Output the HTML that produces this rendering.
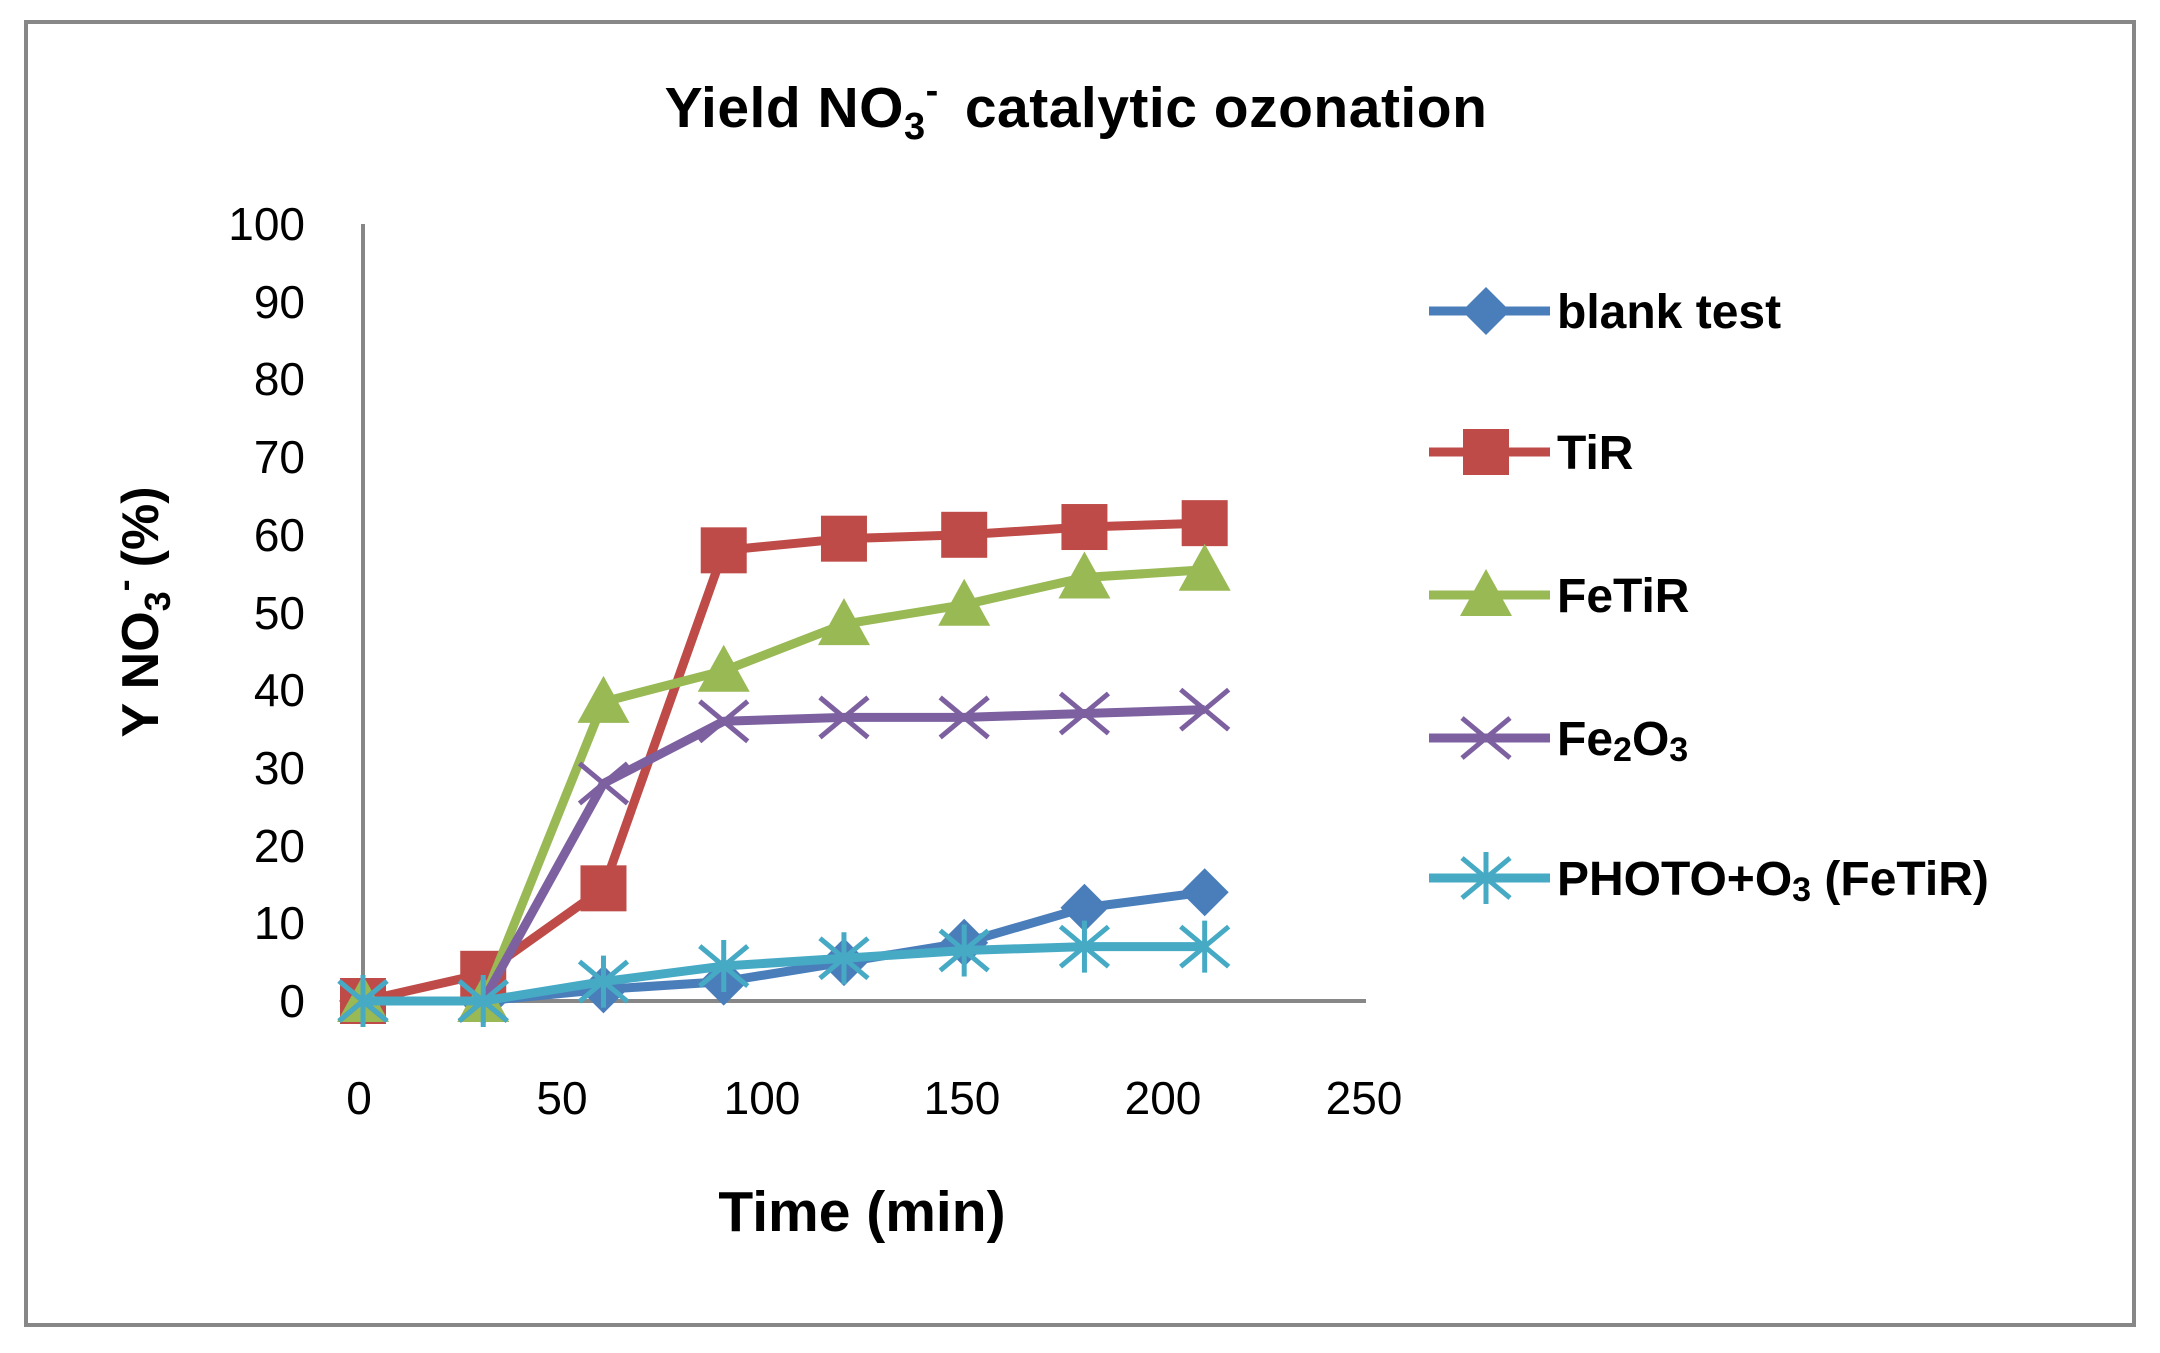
<!DOCTYPE html>
<html><head><meta charset="utf-8"><style>
html,body{margin:0;padding:0;background:#fff;}
svg{display:block;font-family:"Liberation Sans",sans-serif;}
</style></head><body>
<svg id="s" width="2160" height="1353" viewBox="0 0 2160 1353" xmlns="http://www.w3.org/2000/svg">
<rect x="0" y="0" width="2160" height="1353" fill="#fff"/>
<rect x="26" y="22" width="2108" height="1303" fill="none" stroke="#878787" stroke-width="4"/>
<text x="1076" y="127" text-anchor="middle" font-size="57" font-weight="bold" letter-spacing="0.5">Yield NO<tspan font-size="38" dy="12">3</tspan><tspan font-size="38" dy="-36">-</tspan><tspan dy="24" dx="26">catalytic ozonation</tspan></text>
<g stroke="#878787" stroke-width="4">
<line x1="363" y1="224" x2="363" y2="1002"/>
<line x1="361" y1="1001" x2="1366" y2="1001"/>
</g>
<g font-size="46" text-anchor="end" fill="#000">
<text x="305" y="240">100</text><text x="305" y="318">90</text><text x="305" y="395">80</text><text x="305" y="473">70</text><text x="305" y="551">60</text><text x="305" y="629">50</text><text x="305" y="706">40</text><text x="305" y="784">30</text><text x="305" y="862">20</text><text x="305" y="939">10</text><text x="305" y="1017">0</text>
</g>
<g font-size="46" text-anchor="middle">
<text x="359" y="1114">0</text><text x="562" y="1114">50</text><text x="762" y="1114">100</text><text x="962" y="1114">150</text><text x="1163" y="1114">200</text><text x="1364" y="1114">250</text>
</g>
<text x="862" y="1231" text-anchor="middle" font-size="57" font-weight="bold">Time (min)</text>
<text transform="translate(158,612) rotate(-90)" text-anchor="middle" font-size="52" font-weight="bold">Y NO<tspan font-size="36" dy="12">3</tspan><tspan font-size="36" dy="-34">-</tspan><tspan dy="22" dx="12">(%)</tspan></text>
<g id="series"></g>
<g font-size="48" font-weight="bold">
<text x="1557" y="328">blank test</text>
<text x="1557" y="469">TiR</text>
<text x="1557" y="612">FeTiR</text>
<text x="1557" y="755">Fe<tspan font-size="34" dy="6">2</tspan><tspan dy="-6">O</tspan><tspan font-size="34" dy="6">3</tspan></text>
<text x="1557" y="895">PHOTO+O<tspan font-size="34" dy="6">3</tspan><tspan dy="-6"> (FeTiR)</tspan></text>
</g>
</svg>
<script>
var X=[0,30,60,90,120,150,180,210];
var S=[
["#4a7ebb","d",[0,0,1.5,2.5,5,7.5,12,14],311],
["#be4b48","s",[0,3.5,14.5,58,59.5,60,61,61.5],452],
["#98b954","t",[0,0,38.5,42.5,48.5,51,54.5,55.5],595],
["#7d60a0","x",[0,0,28,36,36.5,36.5,37,37.5],738],
["#46aac5","a",[0,0,2.5,4.5,5.5,6.5,7,7],878]];
var g=document.getElementById('series'),h="";
function mk(t,c,x,y){
 if(t=="d")return '<polygon points="'+x+','+(y-24)+' '+(x+24)+','+y+' '+x+','+(y+24)+' '+(x-24)+','+y+'" fill="'+c+'"/>';
 if(t=="s")return '<rect x="'+(x-23)+'" y="'+(y-23)+'" width="46" height="46" fill="'+c+'"/>';
 if(t=="t")return '<polygon points="'+x+','+(y-26)+' '+(x+26)+','+(y+21)+' '+(x-26)+','+(y+21)+'" fill="'+c+'"/>';
 if(t=="x")return '<path d="M'+(x-24)+','+(y-20)+'L'+(x+24)+','+(y+20)+'M'+(x-24)+','+(y+20)+'L'+(x+24)+','+(y-20)+'" stroke="'+c+'" stroke-width="5"/>';
 return '<path d="M'+(x-24)+','+(y-20)+'L'+(x+24)+','+(y+20)+'M'+(x-24)+','+(y+20)+'L'+(x+24)+','+(y-20)+'M'+x+','+(y-26)+'L'+x+','+(y+26)+'" stroke="'+c+'" stroke-width="5"/>';
}
S.forEach(function(s){
 var p=X.map(function(x,i){return [363+x*4.008,1001-s[2][i]*7.77];});
 h+='<polyline points="'+p.map(function(q){return q.join(',')}).join(' ')+'" fill="none" stroke="'+s[0]+'" stroke-width="9" stroke-linejoin="round"/>';
 p.forEach(function(q){h+=mk(s[1],s[0],q[0],q[1]);});
 h+='<line x1="1429" y1="'+s[3]+'" x2="1550" y2="'+s[3]+'" stroke="'+s[0]+'" stroke-width="9"/>'+mk(s[1],s[0],1486,s[3]);
});
g.innerHTML=h;
</script>
</body></html>
